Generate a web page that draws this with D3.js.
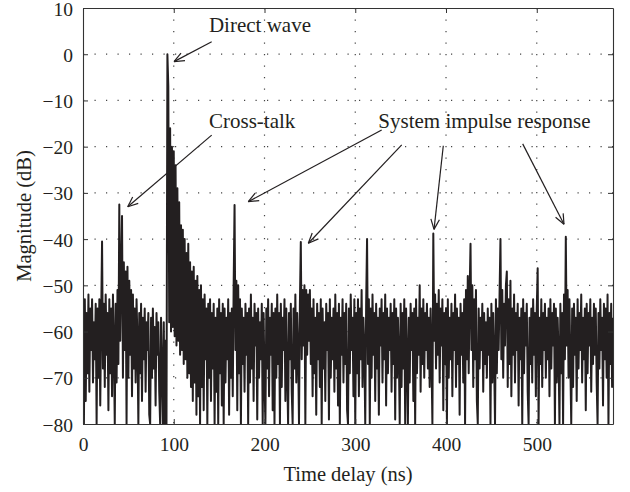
<!DOCTYPE html>
<html>
<head>
<meta charset="utf-8">
<script src="https://d3js.org/d3.v7.min.js"></script>
<style>
  body { margin: 0; background: #fff; }
  text { font-family: "Liberation Serif", "Times New Roman", serif; fill: #231f20; }
</style>
</head>
<body>
<script>
const stepNs = 1;
const mag000 = [
  -57,-80,-53,-75,-56,-69,-52,-73,-55,-64,
  -53,-71,-58,-66,-54,-80,-55,-70,-53,-76,
  -57,-40.5,-68,-54,-72,-52,-65,-56,-77,-53,
  -69,-55,-74,-52,-63,-80,-54,-71,-51,-67,
  -32.5,-62,-47,-35,-70,-45,-64,-47,-80,-46,
  -70,-49,-65,-51,-74,-52,-68,-55,-71,-53,
  -62,-80,-56,-69,-54,-75,-57,-66,-55,-73,
  -58,-64,-56,-78,-80,-57,-70,-55,-68,-59,
  -76,-56,-65,-58,-73,-80,-57,-69,-80,-58,
  -80,-62,-80,0,-7,-58,-16,-60,-20,-59
];
const mag100 = [
  -21,-61,-24,-63,-29,-62,-32,-65,-37,-64,
  -38,-67,-40,-66,-43,-70,-41,-69,-45,-72,
  -47,-75,-46,-71,-49,-78,-48,-74,-51,-80,
  -50,-72,-53,-77,-52,-66,-55,-80,-54,-70,
  -53,-75,-56,-68,-54,-80,-57,-73,-55,-80,
  -53,-69,-56,-76,-54,-80,-55,-71,-57,-66,
  -53,-78,-56,-70,-55,-74,-50,-32.6,-64,-49,
  -77,-50,-69,-53,-80,-55,-67,-57,-73,-54,
  -65,-56,-80,-55,-71,-52,-68,-57,-75,-54,
  -63,-56,-79,-55,-70,-58,-66,-54,-80,-56
];
const mag200 = [
  -71,-80,-55,-68,-53,-74,-57,-65,-54,-77,
  -56,-80,-55,-70,-52,-67,-56,-80,-54,-72,
  -57,-64,-53,-75,-55,-69,-80,-56,-66,-54,
  -73,-80,-55,-68,-52,-71,-56,-64,-80,-54,
  -40.6,-66,-51,-63,-50,-80,-51,-65,-52,-62,
  -51,-67,-55,-74,-53,-69,-57,-78,-54,-66,
  -56,-72,-53,-80,-55,-68,-58,-75,-54,-64,
  -56,-79,-53,-70,-57,-66,-55,-73,-52,-68,
  -56,-76,-54,-80,-57,-65,-53,-71,-56,-67,
  -54,-77,-80,-55,-69,-52,-64,-57,-74,-53
];
const mag300 = [
  -80,-56,-69,-53,-74,-55,-66,-51,-72,-57,
  -64,-80,-54,-40,-67,-53,-80,-55,-70,-52,
  -65,-56,-75,-54,-68,-57,-78,-55,-63,-53,
  -71,-56,-66,-52,-76,-55,-69,-57,-64,-54,
  -73,-56,-67,-53,-79,-55,-70,-57,-65,-80,
  -54,-72,-56,-68,-53,-80,-55,-66,-80,-57,
  -71,-54,-64,-56,-75,-55,-80,-53,-69,-57,
  -65,-50,-73,-55,-67,-53,-70,-56,-64,-54,
  -68,-57,-72,-55,-66,-80,-38.8,-62,-52,-68,
  -54,-65,-51,-71,-55,-63,-53,-77,-56,-67
];
const mag400 = [
  -55,-80,-53,-70,-57,-66,-54,-74,-56,-64,
  -52,-72,-55,-67,-57,-78,-54,-65,-56,-71,
  -53,-80,-51,-66,-48,-69,-52,-41,-64,-50,
  -72,-53,-66,-51,-75,-80,-55,-68,-57,-64,
  -54,-73,-56,-67,-58,-70,-55,-65,-57,-80,
  -54,-71,-56,-66,-80,-53,-69,-55,-64,-52,
  -40,-66,-51,-70,-54,-63,-50,-47,-72,-53,
  -67,-49,-74,-55,-65,-52,-71,-56,-64,-54,
  -76,-57,-66,-55,-80,-53,-69,-56,-63,-54,
  -73,-80,-57,-67,-55,-71,-53,-65,-56,-74
];
const mag500 = [
  -55,-46.3,-80,-57,-67,-53,-72,-56,-64,-54,
  -70,-57,-66,-55,-74,-53,-68,-56,-63,-54,
  -80,-55,-71,-57,-65,-80,-54,-69,-56,-80,
  -52,-66,-39.5,-63,-51,-70,-53,-67,-80,-55,
  -72,-54,-65,-57,-75,-53,-68,-56,-64,-52,
  -71,-57,-66,-55,-77,-54,-69,-56,-63,-53,
  -73,-57,-67,-54,-65,-55,-71,-80,-56,-68,
  -53,-64,-57,-76,-54,-66,-55,-70,-52,-80,
  -56,-67,-54,-72,-57
];

const xTicks = [0, 100, 200, 300, 400, 500];
const yTicks = [-80, -70, -60, -50, -40, -30, -20, -10, 0, 10];
const xMax = 584;
const xLabel = "Time delay (ns)";
const yLabel = "Magnitude (dB)";

// annotation text anchors and arrows, in data units (ns, dB)
const notes = [
  { text: "Direct wave", at: [138.8, 4.8], arrows: [[141.8, 2.7, 100.3, -1.6]] },
  { text: "Cross-talk", at: [138.8, -16], arrows: [[141.8, -17.5, 49.3, -33]] },
  { text: "System impulse response", at: [325.4, -16], arrows: [
      [329.1, -16.4, 182.1, -31.9],
      [351.2, -19.6, 248.3, -40.9],
      [397, -19.8, 386.8, -37.9],
      [484.5, -19.4, 530, -36.8]
  ] }
];

const ink = "#231f20";
const margin = {top: 8, right: 17, bottom: 68, left: 83};
const width = 630 - margin.left - margin.right;
const height = 492 - margin.top - margin.bottom;

const svg = d3.select("body").append("svg")
    .attr("width", 630)
    .attr("height", 492);
const g = svg.append("g")
    .attr("transform", "translate(" + margin.left + "," + margin.top + ")");

const x = d3.scaleLinear().domain([0, xMax]).range([0, width]);
const y = d3.scaleLinear().domain([-80, 10]).range([height, 0]);

// dotted grid
g.append("g").selectAll("line")
  .data(xTicks.filter(d => d > 0))
  .join("line")
    .attr("x1", d => x(d)).attr("x2", d => x(d))
    .attr("y1", 0).attr("y2", height)
    .attr("stroke", "#444").attr("stroke-width", 1.2)
    .attr("stroke-dasharray", "1.2,10.3");
g.append("g").selectAll("line")
  .data(yTicks.filter(d => d > -80 && d < 10))
  .join("line")
    .attr("x1", 0).attr("x2", width)
    .attr("y1", d => y(d)).attr("y2", d => y(d))
    .attr("stroke", "#444").attr("stroke-width", 1.2)
    .attr("stroke-dasharray", "1.2,10.3");

// trace
const mag = [].concat(mag000, mag100, mag200, mag300, mag400, mag500);
svg.append("clipPath").attr("id", "plotclip")
  .append("rect").attr("width", width).attr("height", height);
g.append("path")
    .datum(mag)
    .attr("clip-path", "url(#plotclip)")
    .attr("fill", "none")
    .attr("stroke", ink)
    .attr("stroke-width", 2)
    .attr("stroke-linejoin", "round")
    .attr("d", d3.line()
      .x((d, i) => x(i * stepNs))
      .y(d => y(d)));

// axes: ticks point inward on all four sides
function styleAxis(sel) {
  sel.select(".domain").attr("stroke", "#333").attr("stroke-width", 1.1);
  sel.selectAll(".tick line").attr("stroke", "#333");
  sel.selectAll(".tick text").attr("font-size", 19.5).attr("fill", ink)
    .attr("font-family", "Liberation Serif, serif");
}
g.append("g")
  .attr("transform", "translate(0," + height + ")")
  .call(d3.axisBottom(x).tickValues(xTicks).tickSize(-5).tickSizeOuter(0).tickPadding(13))
  .call(styleAxis);
g.append("g")
  .call(d3.axisLeft(y).tickValues(yTicks).tickSize(-5).tickSizeOuter(0).tickPadding(10))
  .call(styleAxis)
  .call(a => a.selectAll(".tick text").attr("dy", "0.36em"));
g.append("g")
  .call(d3.axisTop(x).tickValues(xTicks).tickSize(-5).tickSizeOuter(0).tickFormat(""))
  .call(styleAxis);
g.append("g")
  .attr("transform", "translate(" + width + ",0)")
  .call(d3.axisRight(y).tickValues(yTicks).tickSize(-5).tickSizeOuter(0).tickFormat(""))
  .call(styleAxis);

// axis titles
svg.append("text")
    .text(xLabel)
    .attr("x", margin.left + width / 2)
    .attr("y", 481)
    .attr("text-anchor", "middle")
    .attr("font-size", 20.5);
svg.append("text")
    .text(yLabel)
    .attr("transform", "translate(31," + (margin.top + height / 2) + ") rotate(-90)")
    .attr("text-anchor", "middle")
    .attr("font-size", 20.5);

// annotations
function arrow(sel, x1, y1, x2, y2) {
  const a = Math.atan2(y2 - y1, x2 - x1);
  const len = 11, spread = 0.4;
  sel.append("line").attr("x1", x1).attr("y1", y1).attr("x2", x2).attr("y2", y2);
  [-1, 1].forEach(s => {
    sel.append("line")
      .attr("x1", x2).attr("y1", y2)
      .attr("x2", x2 - len * Math.cos(a + s * spread))
      .attr("y2", y2 - len * Math.sin(a + s * spread));
  });
}
notes.forEach(n => {
  const ng = g.append("g");
  ng.append("text")
    .text(n.text)
    .attr("x", x(n.at[0]))
    .attr("y", y(n.at[1]))
    .attr("font-size", 21);
  const ag = ng.append("g").attr("stroke", ink).attr("stroke-width", 1.2);
  n.arrows.forEach(r => arrow(ag, x(r[0]), y(r[1]), x(r[2]), y(r[3])));
});
</script>
</body>
</html>
